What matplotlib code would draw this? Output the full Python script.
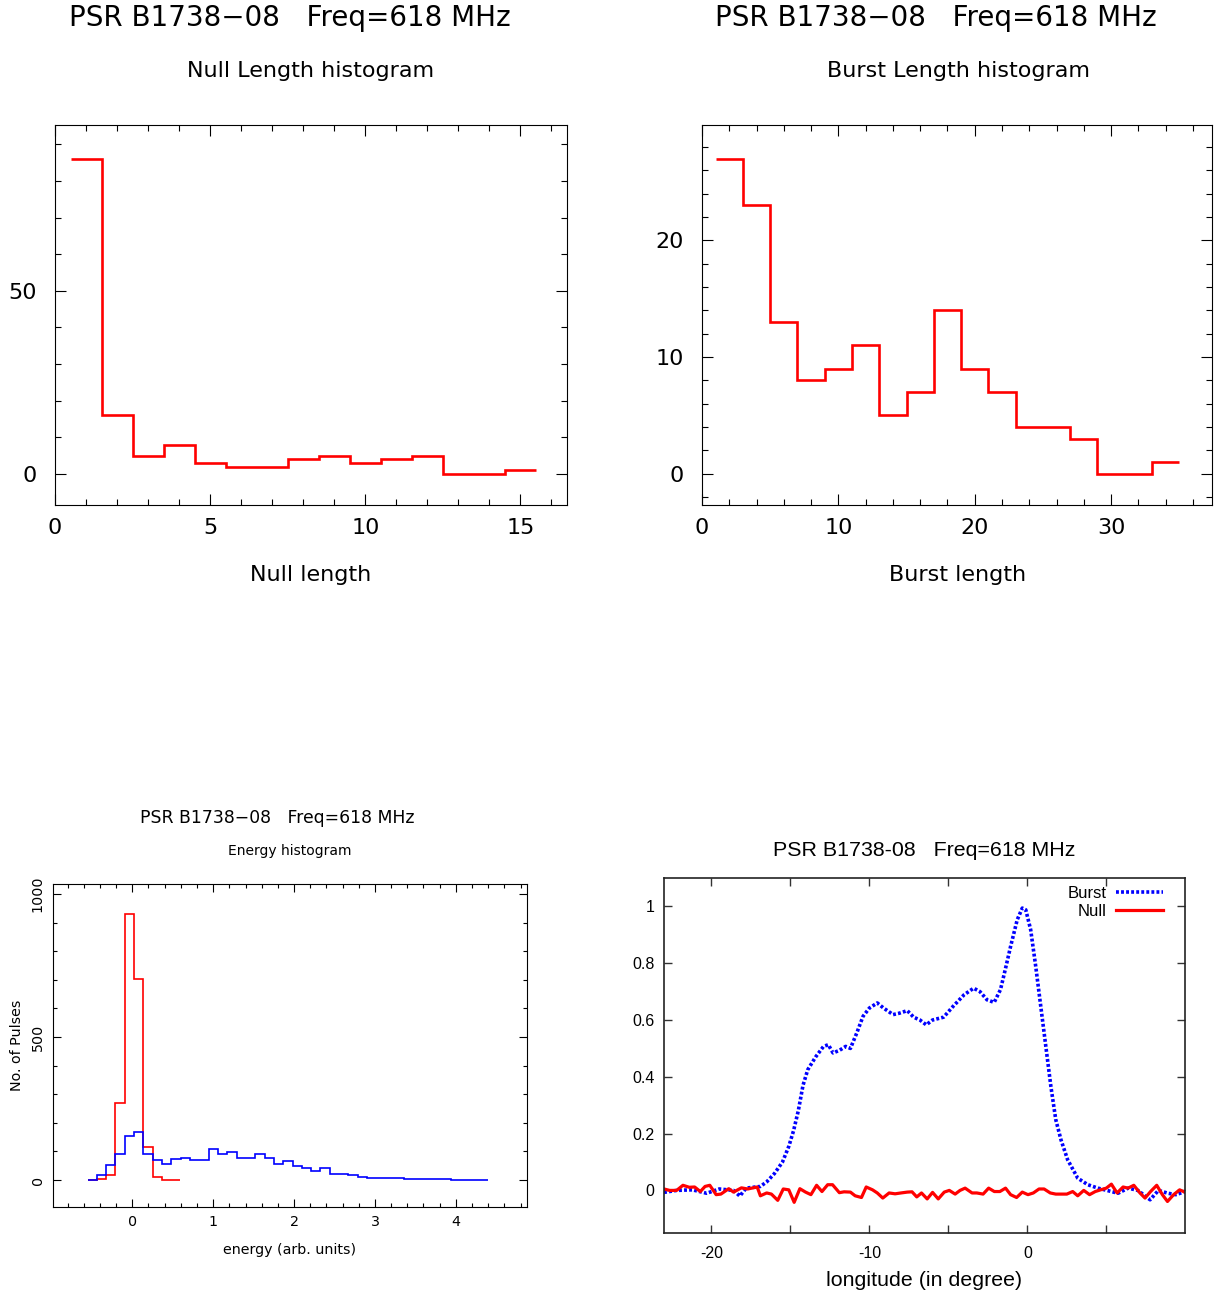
import matplotlib
matplotlib.use("Agg")
import matplotlib.pyplot as plt
from matplotlib.ticker import MultipleLocator, FixedLocator, FormatStrFormatter
import numpy as np

# ---- data ----
# null length histogram (bins of 1 pulse, centred on 1..15)
null_len_edges = np.arange(0.5, 16.0, 1.0)
null_len_counts = [86, 16, 5, 8, 3, 2, 2, 4, 5, 3, 4, 5, 0, 0, 1]

# burst length histogram (bins of 2 pulses, 1..35)
burst_len_edges = np.arange(1, 36, 2)
burst_len_counts = [27, 23, 13, 8, 9, 11, 5, 7, 14, 9, 7, 4, 4, 3, 0, 0, 1]

# energy histograms
energy_start = -0.553
null_energy_width = 0.1148
burst_energy_width = 0.1152
null_energy_counts = [0, 3, 17, 268, 931, 704, 115, 10, 2, 0]
burst_energy_counts = [0, 17, 52, 93, 154, 168, 93, 70, 55, 73,
                       77, 72, 71, 107, 93, 99, 76, 76, 93, 79,
                       58, 66, 51, 42, 32, 42, 22, 20, 18, 11,
                       6, 9, 7, 6, 3, 4, 4, 3, 3, 1,
                       1, 2, 1]

# average profiles
burst_lon = [-23.0, -22.2, -21.2, -20.3, -19.5, -18.6, -18.2, -17.8, -16.9, -16.5,
             -16.0, -15.5, -15.1, -14.8, -14.5, -14.2, -13.9, -13.4, -12.9, -12.6,
             -12.3, -11.9, -11.5, -11.2, -10.8, -10.4, -10.0, -9.5, -9.1, -8.5,
             -8.1, -7.6, -7.2, -6.8, -6.4, -6.0, -5.3, -4.7, -4.0, -3.4,
             -3.0, -2.55, -2.1, -1.7, -1.4, -1.06, -0.64, -0.32, -0.1, 0.21,
             0.53, 0.85, 1.17, 1.49, 1.8, 2.13, 2.55, 3.19, 3.83, 4.47,
             5.32, 5.74, 6.38, 7.0, 7.77, 8.3, 8.9, 9.4, 10.0]
burst_prof = [-0.007, 0.0, 0.002, -0.01, 0.005, 0.0, -0.02, 0.008, 0.014, 0.03,
              0.06, 0.10, 0.155, 0.21, 0.28, 0.37, 0.425, 0.47, 0.507, 0.513,
              0.484, 0.493, 0.507, 0.50, 0.554, 0.613, 0.642, 0.66, 0.642, 0.619,
              0.624, 0.633, 0.61, 0.60, 0.583, 0.60, 0.61, 0.648, 0.689, 0.712,
              0.70, 0.671, 0.662, 0.707, 0.777, 0.859, 0.953, 0.994, 0.988, 0.918,
              0.789, 0.648, 0.507, 0.366, 0.249, 0.178, 0.108, 0.043, 0.02, 0.008,
              -0.004, -0.01, 0.008, 0.0, -0.033, 0.0, -0.01, -0.015, -0.004]

null_lon = [-23.0, -22.64, -22.2, -21.8, -21.4, -21.06, -20.7, -20.4, -20.1, -19.7,
            -19.4, -18.9, -18.6, -18.1, -17.7, -17.1, -16.9, -16.5, -16.2, -15.8,
            -15.45, -15.1, -14.76, -14.4, -14.04, -13.7, -13.34, -13.0, -12.64, -12.33,
            -11.9, -11.6, -11.2, -10.9, -10.5, -10.2, -9.8, -9.5, -9.15, -8.75,
            -8.37, -8.0, -7.6, -7.3, -7.0, -6.7, -6.34, -6.0, -5.64, -5.26,
            -4.94, -4.57, -4.26, -3.94, -3.5, -3.2, -2.8, -2.45, -2.09, -1.74,
            -1.38, -1.06, -0.68, -0.32, 0.04, 0.38, 0.74, 1.06, 1.45, 1.8,
            2.17, 2.5, 2.87, 3.19, 3.57, 3.94, 4.3, 4.64, 5.0, 5.32,
            5.68, 6.06, 6.38, 6.74, 7.13, 7.45, 7.8, 8.19, 8.55, 8.87,
            9.26, 9.64, 10.0]
null_prof = [0.005, 0.0, 0.0, 0.018, 0.011, 0.012, -0.004, 0.014, 0.018, -0.015,
             -0.013, 0.006, -0.006, 0.009, 0.005, 0.012, -0.019, -0.009, -0.013, -0.035,
             0.005, 0.002, -0.042, 0.006, -0.006, -0.015, 0.018, -0.004, 0.02, 0.02,
             -0.008, -0.005, -0.006, -0.019, -0.025, 0.012, 0.002, -0.009, -0.027, -0.009,
             -0.012, -0.009, -0.006, -0.005, -0.023, -0.009, -0.03, -0.007, -0.03, -0.006,
             0.0, -0.013, 0.0, 0.008, -0.009, -0.009, -0.013, 0.008, -0.004, -0.004,
             0.008, -0.015, -0.025, -0.006, -0.015, -0.009, 0.005, 0.005, -0.009, -0.013,
             -0.013, -0.013, -0.004, -0.019, 0.0, -0.015, -0.004, 0.002, 0.008, 0.022,
             -0.009, 0.012, 0.008, 0.018, -0.009, -0.027, -0.004, 0.018, -0.015, -0.039,
             -0.015, 0.002, -0.007]

title = "PSR B1738\u221208   Freq=618 MHz"

W, H = 1214, 1297
fig = plt.figure(figsize=(W / 100, H / 100), dpi=100)
plt.rcParams['axes.unicode_minus'] = False
PG = 'DejaVu Sans'
GP = 'Liberation Sans'


def box(x0, y0, x1, y1):
    # pixel box (top-left origin) -> figure fraction
    return [x0 / W, 1 - y1 / H, (x1 - x0) / W, (y1 - y0) / H]


def ftext(x, y, s, size, family, **kw):
    fig.text(x / W, 1 - y / H, s, fontsize=size, family=family,
             ha='center', va='center', **kw)


def pg_style(ax, xmaj, xmin, ymaj, ymin, size, major=8, minor=4):
    ax.xaxis.set_major_locator(MultipleLocator(xmaj))
    ax.xaxis.set_minor_locator(MultipleLocator(xmin))
    ax.yaxis.set_major_locator(MultipleLocator(ymaj))
    ax.yaxis.set_minor_locator(MultipleLocator(ymin))
    ax.tick_params(which='both', direction='in', top=True, right=True,
                   labelsize=size, width=0.8)
    ax.tick_params(which='major', length=major)
    ax.tick_params(which='minor', length=minor)
    for lab in ax.get_xticklabels() + ax.get_yticklabels():
        lab.set_family(PG)


# ---- top left: null length ----
ax1 = fig.add_axes(box(55, 125, 567, 505))
ax1.stairs(null_len_counts, null_len_edges, baseline=None, color='red', lw=1.9)
ax1.set_xlim(0, 16.5)
ax1.set_ylim(-8.5, 95.3)
pg_style(ax1, 5, 1, 50, 10, 16)
ax1.tick_params(axis='x', pad=9)
ax1.tick_params(axis='y', pad=13)
ftext(290, 18, title, 20, PG)
ftext(311, 71, "Null Length histogram", 16, PG)
ftext(311, 575, "Null length", 16, PG)

# ---- top right: burst length ----
ax2 = fig.add_axes(box(702, 125, 1212, 505))
ax2.stairs(burst_len_counts, burst_len_edges, baseline=None, color='red', lw=1.9)
ax2.set_xlim(0, 37.4)
ax2.set_ylim(-2.7, 29.9)
pg_style(ax2, 10, 2, 10, 2, 16)
ax2.tick_params(axis='x', pad=9)
ax2.tick_params(axis='y', pad=13)
ftext(936, 18, title, 20, PG)
ftext(958, 71, "Burst Length histogram", 16, PG)
ftext(958, 575, "Burst length", 16, PG)

# ---- bottom left: energy histogram ----
ax3 = fig.add_axes(box(53, 884, 527, 1207))
null_e_edges = energy_start + null_energy_width * np.arange(len(null_energy_counts) + 1)
burst_e_edges = energy_start + burst_energy_width * np.arange(len(burst_energy_counts) + 1)
ax3.stairs(null_energy_counts, null_e_edges, baseline=None, color='red', lw=1.2)
ax3.stairs(burst_energy_counts, burst_e_edges, baseline=None, color='blue', lw=1.2)
ax3.set_xlim(-0.98, 4.88)
ax3.set_ylim(-94, 1035)
pg_style(ax3, 1, 0.2, 500, 100, 10.3, major=6, minor=3)
ax3.tick_params(axis='x', pad=6)
ax3.tick_params(axis='y', pad=6)
for lab in ax3.get_yticklabels():
    lab.set_rotation(90)
    lab.set_va('center')
ftext(277, 818, title, 12.4, PG)
ftext(290, 851, "Energy histogram", 10, PG)
ftext(290, 1250, "energy (arb. units)", 10.3, PG)
ftext(17, 1045, "No. of Pulses", 10.3, PG, rotation=90)

# ---- bottom right: average profiles ----
ax4 = fig.add_axes(box(664, 878, 1185, 1233))
ax4.plot(burst_lon, burst_prof, color='blue', lw=2.6, ls=(0, (0.8, 0.6)),
         label='Burst')
ax4.plot(null_lon, null_prof, color='red', lw=2.3, label='Null')
ax4.set_xlim(-23.0, 9.98)
ax4.set_ylim(-0.15, 1.1)
ax4.xaxis.set_major_locator(FixedLocator([-20, -10, 0]))
ax4.xaxis.set_minor_locator(FixedLocator([-15, -5, 5]))
ax4.yaxis.set_major_locator(MultipleLocator(0.2))
ax4.yaxis.set_major_formatter(FormatStrFormatter('%g'))
ax4.tick_params(which='both', direction='in', top=True, right=True,
                length=6, width=1, labelsize=11.5, color='#333333')
ax4.tick_params(axis='x', pad=9)
ax4.tick_params(axis='y', pad=7)
for lab in ax4.get_xticklabels() + ax4.get_yticklabels():
    lab.set_family(GP)
for sp in ax4.spines.values():
    sp.set_linewidth(1.2)
    sp.set_color('#222222')
# markerfirst=False right-aligns the entries, so the labels line up on the right
ax4.legend(loc='upper right', bbox_to_anchor=(0.958, 0.978), frameon=False,
           markerfirst=False, prop={'family': GP, 'size': 12},
           handlelength=2.8, handletextpad=0.6, labelspacing=0.2,
           borderaxespad=0, borderpad=0)
ftext(924, 851, "PSR B1738-08   Freq=618 MHz", 15.4, GP)
ftext(924, 1281, "longitude (in degree)", 15.4, GP)

fig.savefig("out.png", dpi=100)
